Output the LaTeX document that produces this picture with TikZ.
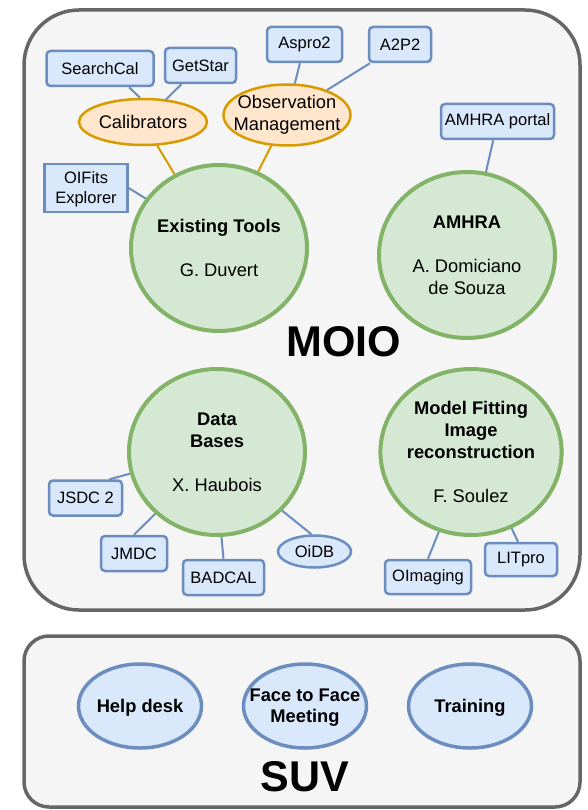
\documentclass[tikz,border=0pt]{standalone}
\usepackage{fontspec}
\setmainfont{Liberation Sans}
\usepackage{tikz}
\usetikzlibrary{shapes.geometric}
\definecolor{panelfill}{HTML}{F5F5F5}
\definecolor{paneldraw}{HTML}{666666}
\definecolor{topicfill}{HTML}{D5E8D4}
\definecolor{topicdraw}{HTML}{82B366}
\definecolor{groupfill}{HTML}{FFE6CC}
\definecolor{groupdraw}{HTML}{D79B00}
\definecolor{toolfill}{HTML}{DAE8FC}
\definecolor{tooldraw}{HTML}{6C8EBF}
\tikzset{
  panel/.style={draw=paneldraw, fill=panelfill, line width=3.5pt},
  title/.style={font=\fontsize{43}{43}\selectfont\bfseries, inner sep=0pt},
  topic/.style={ellipse, draw=topicdraw, fill=topicfill, line width=4pt,
    minimum width=176pt, minimum height=166pt, inner sep=0pt, align=center,
    text depth=-4pt, font=\fontsize{18.3}{22}\selectfont},
  group/.style={ellipse, draw=groupdraw, fill=groupfill, line width=2.5pt,
    minimum height=46pt, inner xsep=-12pt, inner ysep=0pt, align=center,
    font=\fontsize{18.3}{22}\selectfont},
  tool/.style={draw=tooldraw, fill=toolfill, line width=2.5pt, rounded corners=4pt,
    minimum height=35pt, inner sep=2pt, align=center,
    font=\fontsize{16.5}{20}\selectfont},
  service/.style={ellipse, draw=tooldraw, fill=toolfill, line width=3.5pt,
    minimum width=123pt, minimum height=84pt, inner xsep=-12pt, inner ysep=0pt,
    align=center, text depth=-3pt, font=\fontsize{18.3}{21}\selectfont\bfseries},
  link/.style={draw=tooldraw, line width=2pt},
  grouplink/.style={draw=groupdraw, line width=2pt},
}

\begin{document}
\begin{tikzpicture}[x=1pt, y=-1pt]
\useasboundingbox (0,0) rectangle (587,810);

% the two panels
\draw[panel, rounded corners=55pt] (24,10) rectangle (580,610);
\draw[panel, rounded corners=25pt] (24,636) rectangle (580,807);
\node[title] (moio) at (344,342) {MOIO};
\node[title] (suv) at (305,777) {SUV};

% MOIO topics
\node[topic] (exist) at (219,248) {\textbf{Existing Tools}\\[22pt]G. Duvert};
\node[topic] (amhra) at (467,255) {\textbf{AMHRA}\\[22pt]A. Domiciano\\de Souza};
\node[topic] (db) at (217,452) {\textbf{Data}\\\textbf{Bases}\\[22pt]X. Haubois};
\node[topic] (mf) at (471,452) {\textbf{Model Fitting}\\\textbf{Image}\\\textbf{reconstruction}\\[22pt]F. Soulez};

\node[group, minimum width=128pt] (calib) at (143,122) {Calibrators};
\node[group, minimum width=127pt, minimum height=61pt] (obs) at (287,115) {Observation\\Management};

% tools
\node[tool, minimum width=107pt] (searchcal) at (100,68.5) {SearchCal};
\node[tool, minimum width=71pt] (getstar) at (200.5,65.5) {GetStar};
\node[tool, minimum width=75pt] (aspro) at (304.5,44.5) {Aspro2};
\node[tool, minimum width=62pt] (atwop) at (400,44.5) {A2P2};
\node[tool, minimum width=113pt] (portal) at (497.5,121.5) {AMHRA portal};
\node[tool, rounded corners=0pt, minimum width=83pt, minimum height=48pt,
  text depth=-2pt] (oifits) at (86,188) {OIFits\\Explorer};
\node[tool, minimum width=73pt] (jsdc) at (85.5,498) {JSDC 2};
\node[tool, minimum width=66pt] (jmdc) at (134,553.5) {JMDC};
\node[tool, minimum width=81pt] (badcal) at (223.5,577.5) {BADCAL};
\node[tool, ellipse, minimum width=73pt, minimum height=32pt, inner sep=0pt] (oidb) at (314.5,551.5) {OiDB};
\node[tool, minimum width=86pt, minimum height=34pt] (oimaging) at (428,577) {OImaging};
\node[tool, minimum width=72pt, minimum height=33pt] (litpro) at (521,559.5) {LITpro};

% SUV services
\node[service] (help) at (140,706) {Help desk};
\node[service] (face) at (305,706) {Face to Face\\Meeting};
\node[service] (train) at (470,706) {Training};

% connectors
\draw[link] ([xshift=29pt]searchcal.south) -- (calib.97);
\draw[link] (getstar) -- (calib);
\draw[link] (aspro) -- (obs);
\draw[link] (atwop) -- (obs);
\draw[grouplink] (calib) -- (exist);
\draw[grouplink] (obs) -- (exist);
\draw[link] (oifits.east) -- (exist.146);
\draw[link] (portal) -- (amhra);
\draw[link] ([xshift=24pt]jsdc.north) -- (db.194);
\draw[link] (jmdc.north) -- (db.225);
\draw[link] (badcal.north) -- (db.273);
\draw[link] (oidb.100) -- (db.318);
\draw[link] (oimaging.north) -- (mf.248);
\draw[link] ([xshift=-3pt]litpro.north) -- (mf.298);
\end{tikzpicture}
\end{document}
